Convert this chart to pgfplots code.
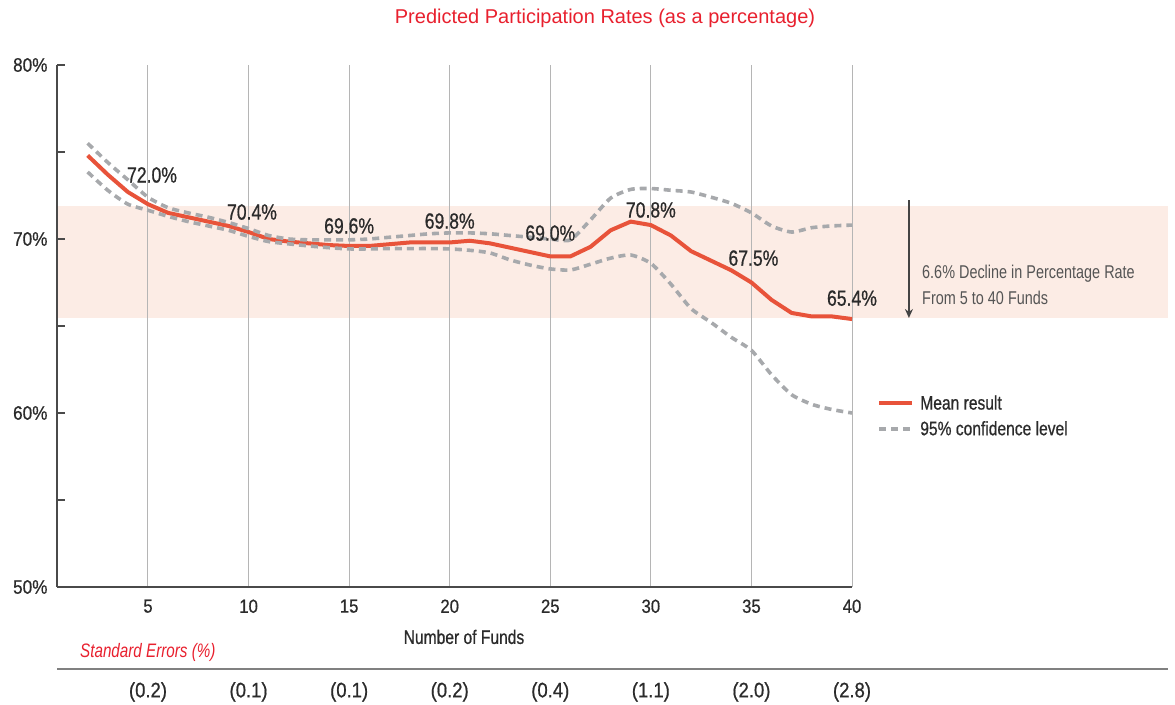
\documentclass[border=0pt]{standalone}
\usepackage{fontspec}
\setmainfont{Liberation Sans}[FakeStretch=0.78]
\newfontfamily\titlefont{Liberation Sans}
\newfontfamily\medfont{Liberation Sans}[FakeStretch=0.8, FakeBold=0.7]
\newfontfamily\widefont{Liberation Sans}[FakeStretch=0.88, FakeBold=0.7]
\usepackage{pgfplots}
\pgfplotsset{compat=1.18}
\usetikzlibrary{arrows.meta}
\definecolor{meanred}{HTML}{E8533A}
\definecolor{cigray}{HTML}{A7A9AC}
\definecolor{bandc}{HTML}{FCECE5}
\definecolor{titlered}{HTML}{E8202E}
\definecolor{txt}{HTML}{2B2B2B}
\definecolor{gridgray}{HTML}{B5B5B5}
\definecolor{axisgray}{HTML}{4A4A4A}
\definecolor{annot}{HTML}{555555}

\pgfplotstableread{
x y
2 74.8
3 73.7
4 72.7
5 72.0
6 71.5
7 71.25
8 71.0
9 70.75
10 70.4
11 70.0
12 69.85
13 69.75
14 69.65
15 69.6
16 69.6
17 69.7
18 69.8
19 69.8
20 69.8
21 69.9
22 69.75
23 69.5
24 69.25
25 69.0
26 69.0
27 69.55
28 70.5
29 71.0
30 70.8
31 70.2
32 69.3
33 68.75
34 68.2
35 67.5
36 66.5
37 65.75
38 65.55
39 65.55
40 65.4
}\meandata

\pgfplotstableread{
x y
2 75.5
3 74.4
4 73.4
5 72.4
6 71.8
7 71.5
8 71.25
9 70.95
10 70.6
11 70.2
12 70.0
13 69.95
14 69.95
15 69.95
16 70.0
17 70.1
18 70.2
19 70.3
20 70.35
21 70.35
22 70.3
23 70.2
24 70.1
25 70.0
26 69.95
27 71.1
28 72.35
29 72.85
30 72.9
31 72.8
32 72.7
33 72.4
34 72.05
35 71.5
36 70.75
37 70.4
38 70.65
39 70.75
40 70.8
}\upperdata

\pgfplotstableread{
x y
2 73.85
3 72.8
4 72.0
5 71.65
6 71.3
7 71.0
8 70.75
9 70.5
10 70.15
11 69.85
12 69.72
13 69.6
14 69.5
15 69.43
16 69.43
17 69.45
18 69.45
19 69.45
20 69.43
21 69.35
22 69.2
23 68.8
24 68.5
25 68.28
26 68.22
27 68.55
28 68.9
29 69.08
30 68.6
31 67.4
32 66.0
33 65.2
34 64.35
35 63.6
36 62.2
37 61.05
38 60.5
39 60.2
40 60.0
}\lowerdata

\begin{document}
\begin{tikzpicture}
\path (0pt,0pt) rectangle (1175pt,704pt);
\begin{axis}[
  set layers,
  at={(57pt,117pt)}, anchor=south west,
  scale only axis, width=795pt, height=522pt,
  xmin=0.476, xmax=40, ymin=50, ymax=80,
  clip=false,
  axis lines*=left,
  axis line style={axisgray, line width=1.3pt},
  xtick={5,10,15,20,25,30,35,40},
  xticklabels={5,10,15,20,25,30,35,40},
  ytick={50,60,70,80},
  yticklabels={50\%,60\%,70\%,80\%},
  minor ytick={55,65,75},
  tick align=inside,
  major tick length=8pt, minor tick length=8pt,
  every tick/.style={axisgray, line width=1.1pt},
  every x tick/.style={draw=none},
  xmajorgrids=true,
  major grid style={gridgray, line width=1pt},
  yticklabel style={font=\widefont\fontsize{19.5}{20}\selectfont, text=txt, xshift=-6pt},
  xticklabel style={font=\widefont\fontsize{19}{20}\selectfont, text=txt, yshift=-9pt},
  legend style={at={(rel axis cs:1.0278,0.375)}, anchor=north west, draw=none, fill=none,
     font=\medfont\fontsize{19.5}{20}\selectfont, text=txt, row sep=6pt,
     nodes={inner sep=2pt}},
  legend cell align=left,
  legend image code/.code={\draw[#1] (0pt,0pt) -- (33pt,0pt); \path (37pt,0pt);},
]
\begin{pgfonlayer}{axis background}
\fill[bandc] (axis cs:0.476,65.45) rectangle (axis cs:55.71,71.87);
\end{pgfonlayer}

\addplot[meanred, line width=4pt, line join=round] table {\meandata};
\addlegendentry{Mean result}
\addplot[cigray, line width=3.6pt, dash pattern=on 7pt off 5pt, smooth, tension=0.4] table {\upperdata};
\addlegendentry{95\% confidence level}
\addplot[cigray, line width=3.6pt, dash pattern=on 7pt off 5pt, smooth, tension=0.4, forget plot] table {\lowerdata};

\begin{scope}[every node/.style={font=\medfont\fontsize{22}{24}\selectfont, text=txt, inner sep=0pt}]
\node at (axis cs:5.2,73.68) {72.0\%};
\node at (axis cs:10.17,71.55) {70.4\%};
\node at (axis cs:15,70.75) {69.6\%};
\node at (axis cs:20,71.03) {69.8\%};
\node at (axis cs:25,70.34) {69.0\%};
\node at (axis cs:30,71.67) {70.8\%};
\node at (axis cs:35.1,68.9) {67.5\%};
\node at (axis cs:40,66.6) {65.4\%};
\end{scope}

\draw[annot!80!black, line width=1.2pt, -{Stealth[length=9pt,width=8pt]}] (axis cs:42.83,72.24) -- (axis cs:42.83,65.46);
\node[anchor=west, align=left, inner sep=0pt, text=annot, font=\fontsize{18.5}{26}\selectfont] at (axis cs:43.48,67.35) {6.6\% Decline in Percentage Rate\\From 5 to 40 Funds};

\node[text=titlered, font=\titlefont\fontsize{20}{22}\selectfont, inner sep=0pt] at (axis cs:27.72,82.7) {Predicted Participation Rates (as a percentage)};

\node[text=txt, font=\medfont\fontsize{19.5}{22}\selectfont, inner sep=0pt] at (axis cs:20.71,47.13) {Number of Funds};
\node[text=titlered, font=\itshape\fontsize{19.5}{22}\selectfont, inner sep=0pt, anchor=west] at (axis cs:1.62,46.26) {Standard Errors (\%)};
\draw[color=black!50, line width=1.5pt] (axis cs:0.476,45.29) -- (axis cs:55.71,45.29);
\begin{scope}[every node/.style={font=\widefont\fontsize{21}{22}\selectfont, text=txt, inner sep=0pt}]
\node at (axis cs:5,43.97) {(0.2)};
\node at (axis cs:10,43.97) {(0.1)};
\node at (axis cs:15,43.97) {(0.1)};
\node at (axis cs:20,43.97) {(0.2)};
\node at (axis cs:25,43.97) {(0.4)};
\node at (axis cs:30,43.97) {(1.1)};
\node at (axis cs:35,43.97) {(2.0)};
\node at (axis cs:40,43.97) {(2.8)};
\end{scope}
\end{axis}
\end{tikzpicture}
\end{document}
